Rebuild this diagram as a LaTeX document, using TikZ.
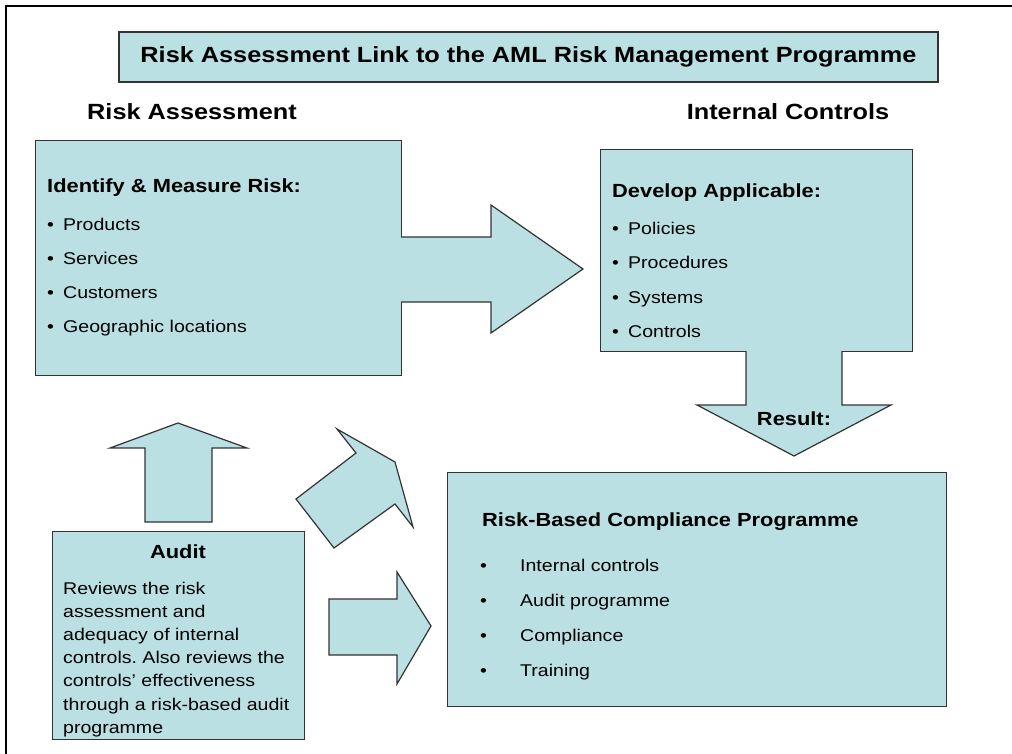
\documentclass[tikz,border=0pt]{standalone}
\usepackage{fontspec}
\setmainfont{Liberation Sans}[FakeStretch=1.15]
\usetikzlibrary{arrows,shapes}
\definecolor{paneblue}{RGB}{187,224,227}
\newcommand{\itm}[2]{\makebox[#1][l]{\textbullet}#2}
\frenchspacing

\begin{document}
\begin{tikzpicture}[x=1pt,y=-1pt]
\useasboundingbox (0,0) rectangle (1012,754);
\begin{scope}
\tikzstyle{every node}=[inner sep=0pt];
\tikzstyle{panel}=[draw=black!80, fill=paneblue, line width=1.2pt];
\tikzstyle{item}=[anchor=base west, font=\fontsize{17}{20}\selectfont];
\tikzstyle{head}=[anchor=base west, font=\fontsize{19}{23}\selectfont\bfseries];
\tikzstyle{big}=[font=\fontsize{22}{26}\selectfont\bfseries];

% frame
\draw[line width=2pt] (6,754) -- (6,6) -- (1012,6);

% title and column headings
\draw (528.5,57) node[panel, big, minimum width=819pt, minimum height=50pt] (title) {Risk Assessment Link to the AML Risk Management Programme};
\draw (192,120) node[big, anchor=base] (hrisk) {Risk Assessment};
\draw (788,120) node[big, anchor=base] (hctrl) {Internal Controls};

% risk assessment box with arrow
\draw (35,140) node[panel, anchor=north west, minimum width=366pt, minimum height=235pt] (riskbox) {};
\draw[panel] (401,237) -- (491,237) -- (491,205) -- (583,269) -- (491,333) -- (491,302) -- (401,302);
\fill[paneblue] (399.3,237.7) rectangle (402.7,301.3);
\draw (47,193) node[head] (r0) {Identify \& Measure Risk:};
\draw (47,230) node[item] (r1) {\itm{16pt}{Products}};
\draw (47,264) node[item] (r2) {\itm{16pt}{Services}};
\draw (47,298) node[item] (r3) {\itm{16pt}{Customers}};
\draw (47,332) node[item] (r4) {\itm{16pt}{Geographic locations}};

% internal controls box with arrow
\draw (600,149) node[panel, anchor=north west, minimum width=312pt, minimum height=202pt] (ctrlbox) {};
\draw[panel] (746,351) -- (746,405) -- (697,405) -- (794,456) -- (891,405) -- (842,405) -- (842,351);
\fill[paneblue] (746.7,349.3) rectangle (841.3,352.7);
\draw (612,198) node[head] (c0) {Develop Applicable:};
\draw (612,234) node[item] (c1) {\itm{16pt}{Policies}};
\draw (612,269) node[item] (c2) {\itm{16pt}{Procedures}};
\draw (612,303) node[item] (c3) {\itm{16pt}{Systems}};
\draw (612,337) node[item] (c4) {\itm{16pt}{Controls}};
\draw (794,425) node[head, anchor=base] (result) {Result:};

% compliance programme box
\draw (447,472) node[panel, anchor=north west, minimum width=499pt, minimum height=234pt] (compbox) {};
\draw (482,526) node[head] (p0) {Risk-Based Compliance Programme};
\draw (480,571) node[item] (p1) {\itm{40pt}{Internal controls}};
\draw (480,606) node[item] (p2) {\itm{40pt}{Audit programme}};
\draw (480,641) node[item] (p3) {\itm{40pt}{Compliance}};
\draw (480,676) node[item] (p4) {\itm{40pt}{Training}};

% audit box and its arrows
\draw (52,531) node[panel, anchor=north west, minimum width=252pt, minimum height=208pt] (auditbox) {};
\draw (178,558) node[head, anchor=base] (a0) {Audit};
\draw (63,581.5) node[anchor=north west, align=left, font=\fontsize{17}{23.2}\selectfont] (a1) {Reviews the risk\\assessment and\\adequacy of internal\\controls. Also reviews the\\controls' effectiveness\\through a risk-based audit\\programme};
\draw[panel] (145,522) -- (145,448) -- (110,448) -- (178,423) -- (247,448) -- (212,448) -- (212,522) -- cycle;
\draw[panel] (296,499) -- (356,453) -- (337,429) -- (395,462) -- (413,527) -- (395,504) -- (334,548) -- cycle;
\draw[panel] (329,599) -- (397,599) -- (397,572) -- (431,626) -- (397,684) -- (397,655) -- (329,655) -- cycle;
\end{scope}
\end{tikzpicture}
\end{document}
